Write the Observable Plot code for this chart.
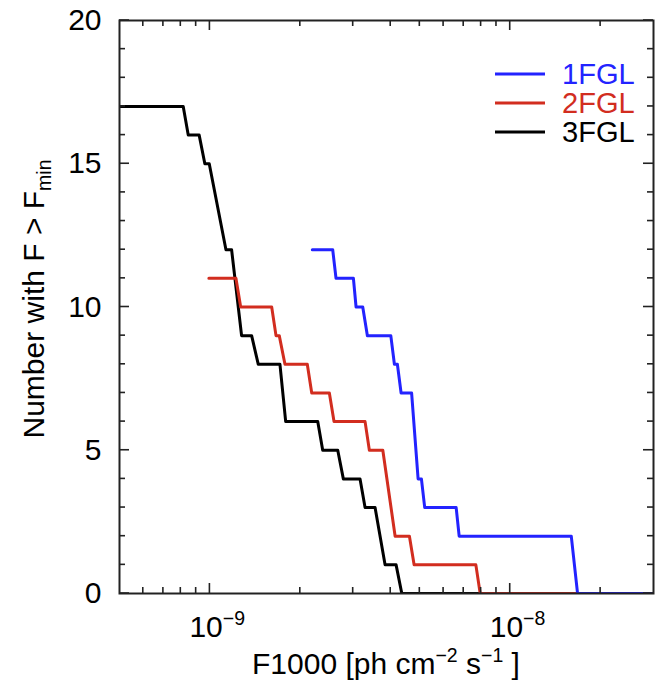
<!DOCTYPE html>
<html><head><meta charset="utf-8">
<script src="https://cdn.jsdelivr.net/npm/d3@7"></script>
<script src="https://cdn.jsdelivr.net/npm/@observablehq/plot@0.6"></script>
<style>
body{margin:0;background:#fff;}
svg{font-family:"Liberation Sans",Arial,Helvetica,sans-serif;}
</style>
</head><body><div id="chart"></div>
<script>
const catalogs = ["1FGL", "2FGL", "3FGL"];
const catalogColors = ["#2323ff", "#d22d1f", "#000000"];

const fgl1Flux = [2.193e-9, 2.564e-9, 2.630e-9, 3.005e-9, 3.067e-9, 3.228e-9, 3.345e-9, 4.003e-9, 4.115e-9, 4.210e-9, 4.332e-9, 4.695e-9, 4.935e-9, 5.062e-9, 5.192e-9, 6.607e-9, 6.761e-9, 1.597e-8, 1.676e-8, 3.0e-8];
const fgl1N    = [12, 12, 11, 11, 10, 10, 9, 9, 8, 8, 7, 7, 4, 4, 3, 3, 2, 2, 0, 0];

const fgl2Flux = [9.92e-10, 1.221e-9, 1.266e-9, 1.606e-9, 1.660e-9, 1.702e-9, 1.778e-9, 2.110e-9, 2.183e-9, 2.499e-9, 2.590e-9, 3.286e-9, 3.396e-9, 3.765e-9, 4.138e-9, 4.617e-9, 4.786e-9, 7.685e-9, 7.943e-9, 3.0e-8];
const fgl2N    = [11, 11, 10, 10, 9, 9, 8, 8, 7, 7, 6, 6, 5, 5, 2, 2, 1, 1, 0, 0];

const fgl3Flux = [5.0e-10, 8.15e-10, 8.47e-10, 9.21e-10, 9.62e-10, 9.95e-10, 1.131e-9, 1.181e-9, 1.275e-9, 1.377e-9, 1.449e-9, 1.711e-9, 1.788e-9, 2.286e-9, 2.375e-9, 2.665e-9, 2.782e-9, 3.162e-9, 3.286e-9, 3.548e-9, 3.831e-9, 4.169e-9, 4.355e-9, 3.0e-8];
const fgl3N    = [17, 17, 16, 16, 15, 15, 12, 12, 9, 9, 8, 8, 6, 6, 5, 5, 4, 4, 3, 3, 1, 1, 0, 0];

const xDomain = [5e-10, 3e-8];
const yDomain = [0, 20];
const xMajorTicks = [1e-9, 1e-8];
const xMajorExponents = ["−9", "−8"];
const yMajorTicks = [0, 5, 10, 15, 20];

const W = 665, H = 680;
const mL = 119, mR = 12, mT = 20, mB = 87;
const innerW = W - mL - mR, innerH = H - mT - mB;
const FONT = 30;
const tickCol = "#222";

const xMinorTicks = [];
for (const e of [-10, -9, -8]) for (let m = 2; m <= 9; m++) {
  const v = m * Math.pow(10, e);
  if (v > xDomain[0] && v < xDomain[1]) xMinorTicks.push(v);
}
const yMinorTicks = d3.range(yDomain[0] + 1, yDomain[1]).filter(v => v % 5 !== 0);

const rows = (flux, n) => flux.map((f, i) => ({f, n: n[i]}));
const series = [
  rows(fgl3Flux, fgl3N),
  rows(fgl2Flux, fgl2N),
  rows(fgl1Flux, fgl1N)
];
const seriesColors = [catalogColors[2], catalogColors[1], catalogColors[0]];

const chart = Plot.plot({
  width: W, height: H,
  marginLeft: mL, marginRight: mR, marginTop: mT, marginBottom: mB,
  x: {type: "log", domain: xDomain, axis: null},
  y: {domain: yDomain, axis: null},
  style: {fontFamily: '"Liberation Sans", Arial, sans-serif', background: "#fff"},
  marks: [
    ...series.map((s, i) => Plot.line(s, {x: "f", y: "n", stroke: seriesColors[i], strokeWidth: 3, clip: true})),
    Plot.frame({stroke: "#222", strokeWidth: 2}),
    Plot.axisY(yMajorTicks, {tickSize: 0, tickPadding: 18, fontSize: FONT, label: null, color: "#000"})
  ]
});
document.getElementById("chart").appendChild(chart);

const svg = d3.select(chart);
const xs = chart.scale("x");
const ys = chart.scale("y");

// inward ticks placed with the chart's own scales
const tg = svg.append("g").attr("stroke", tickCol).attr("stroke-width", 1.6);
const y0 = ys.apply(yDomain[0]), y1 = ys.apply(yDomain[1]);
const x0 = xs.apply(xDomain[0]), x1 = xs.apply(xDomain[1]);
const vTick = (v, len) => {
  const px = xs.apply(v);
  tg.append("line").attr("x1", px).attr("x2", px).attr("y1", y0).attr("y2", y0 - len);
  tg.append("line").attr("x1", px).attr("x2", px).attr("y1", y1).attr("y2", y1 + len);
};
const hTick = (v, len) => {
  const py = ys.apply(v);
  tg.append("line").attr("x1", x0).attr("x2", x0 + len).attr("y1", py).attr("y2", py);
  tg.append("line").attr("x1", x1).attr("x2", x1 - len).attr("y1", py).attr("y2", py);
};
xMajorTicks.forEach(v => vTick(v, 10));
xMinorTicks.forEach(v => vTick(v, 6));
yMajorTicks.forEach(v => hTick(v, 10));
yMinorTicks.forEach(v => hTick(v, 6));

// x tick labels with superscript exponents
xMajorTicks.forEach((v, i) => {
  const px = xs.apply(v);
  const t = svg.append("text").attr("x", px - 20).attr("y", 637)
    .attr("text-anchor", "start").attr("font-size", FONT).attr("fill", "#000");
  t.append("tspan").text("10");
  t.append("tspan").attr("dy", -12).attr("font-size", FONT * 0.65).text(xMajorExponents[i]);
});

// x axis label
{
  const t = svg.append("text").attr("x", 386).attr("y", 674)
    .attr("text-anchor", "middle").attr("font-size", FONT).attr("fill", "#000");
  t.append("tspan").text("F1000 [ph cm");
  t.append("tspan").attr("dy", -12).attr("font-size", FONT * 0.65).text("−2");
  t.append("tspan").attr("dy", 12).text(" s");
  t.append("tspan").attr("dy", -12).attr("font-size", FONT * 0.65).text("−1");
  t.append("tspan").attr("dy", 12).text(" ]");
}

// y axis label
{
  const t = svg.append("text").attr("transform", "translate(44,299) rotate(-90)")
    .attr("text-anchor", "middle").attr("font-size", FONT).attr("fill", "#000");
  t.append("tspan").text("Number with F > F");
  t.append("tspan").attr("dy", 7).attr("font-size", FONT * 0.65).text("min");
}

// legend
const legY = [74, 103, 132];
catalogs.forEach((name, i) => {
  svg.append("line").attr("x1", 495).attr("x2", 545).attr("y1", legY[i]).attr("y2", legY[i])
    .attr("stroke", catalogColors[i]).attr("stroke-width", 3);
  svg.append("text").attr("x", 562).attr("y", legY[i]).attr("dy", "0.36em")
    .attr("text-anchor", "start").attr("font-size", FONT * 0.97).attr("fill", catalogColors[i]).text(name);
});
</script>
</body></html>
